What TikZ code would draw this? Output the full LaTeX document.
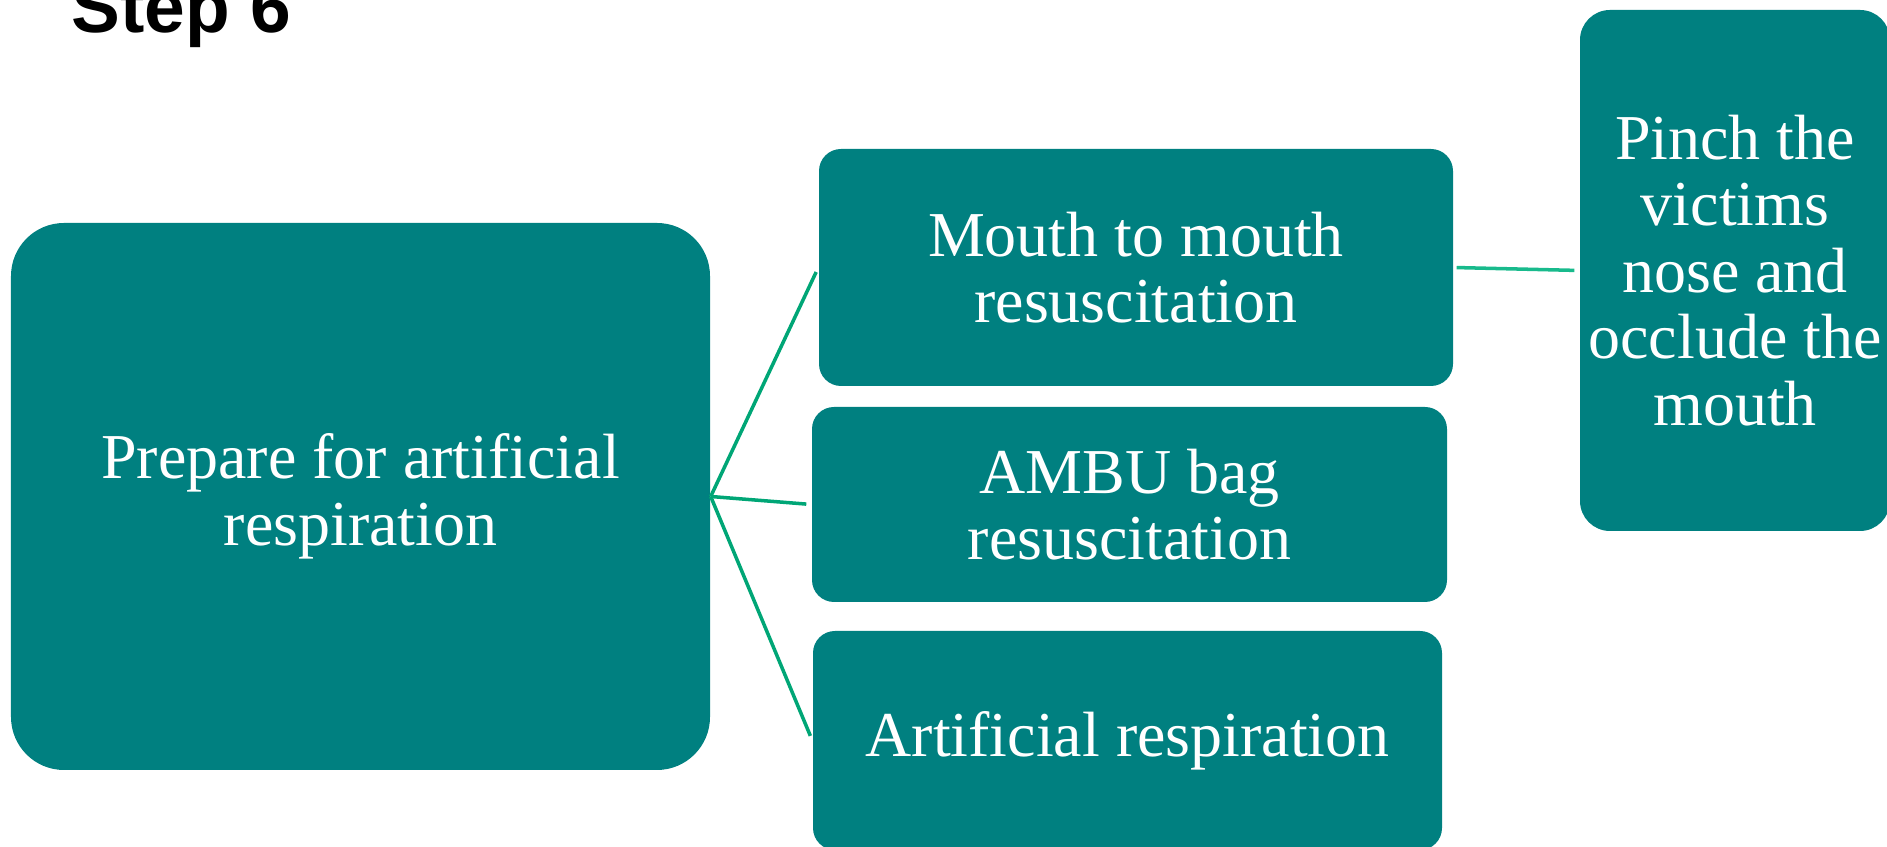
\documentclass[tikz,border=0pt]{standalone}
\usepackage{fontspec}
\setmainfont{Liberation Serif}
\newfontfamily\headfont{Liberation Sans}
\definecolor{boxteal}{RGB}{0,128,128}
\definecolor{linkgreen}{RGB}{0,166,118}
\definecolor{linklight}{RGB}{24,186,140}
\begin{document}
\begin{tikzpicture}[text=white,
    box/.style={fill=boxteal, rounded corners=0.22cm, align=center, inner sep=0pt,
                font=\fontsize{18.2}{18.9}\selectfont},
    link/.style={linkgreen, line width=1pt}]
        \useasboundingbox (0,0) rectangle (18.87,-8.47);
        \node[anchor=base west, text=black, font=\headfont\bfseries\fontsize{20.8}{22}\selectfont] (title) at (0.59,-0.33) {Step 6};
        \node[box, minimum width=6.99cm, minimum height=5.47cm, rounded corners=0.53cm] (prep) at (3.605,-4.965) {Prepare for artificial\\respiration};
        \node[box, minimum width=6.34cm, minimum height=2.37cm] (mouth) at (11.36,-2.675) {Mouth to mouth\\resuscitation};
        \node[box, minimum width=6.35cm, minimum height=1.95cm] (ambu) at (11.295,-5.045) {AMBU bag\\resuscitation};
        \node[box, minimum width=6.29cm, minimum height=2.19cm] (artif) at (11.275,-7.405) {Artificial respiration};
        \node[box, minimum width=3.10cm, minimum height=5.21cm, rounded corners=0.3cm] (pinch) at (17.35,-2.705) {Pinch the\\victims\\nose and\\occlude the\\mouth};
        % connectors
        \foreach \to in {mouth, ambu, artif}
            \draw[link, shorten >=0.05cm] (prep.east) -- (\to.west);
        \draw[link, linklight, shorten <=0.03cm, shorten >=0.05cm] (mouth.east) -- (pinch.west);
\end{tikzpicture}
\end{document}
